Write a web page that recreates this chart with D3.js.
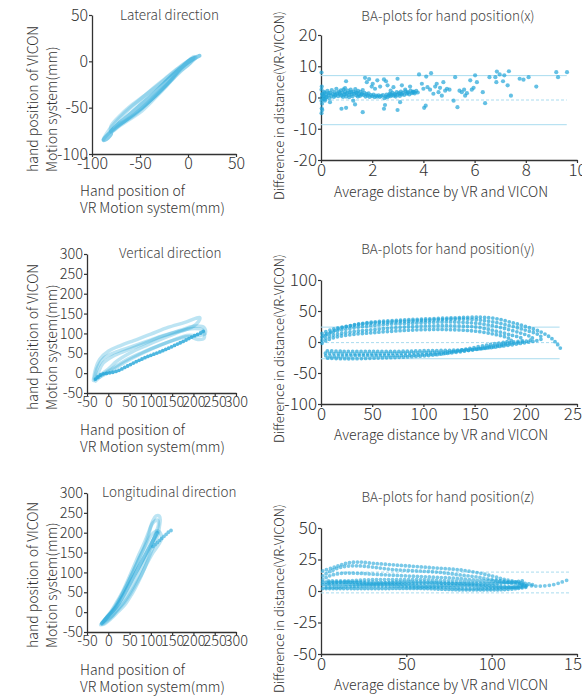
<!DOCTYPE html>
<html><head><meta charset="utf-8">
<script src="https://cdn.jsdelivr.net/npm/d3@7"></script>
<style>body{margin:0;background:#fff} svg{display:block}</style>
</head><body><svg id="c" width="582" height="697"></svg>
<script>
// ---------------- DATA ----------------
// Panel 1: Lateral direction (VR x vs VICON x), trajectory loops
const lateralLoopA = [[-82,-78],[-75,-70],[-65,-61],[-55,-52],[-45,-43],[-35,-34],[-25,-24],[-15,-14],[-5,-5],[3,2],[10,5],[12,6],[8,4],[0,-1],[-8,-8],[-18,-20],[-28,-31],[-38,-41],[-48,-50],[-58,-58],[-68,-66],[-78,-74],[-86,-82],[-88,-85],[-85,-84],[-80,-78]];
const lateralLoopB = [[-88,-84],[-82,-74],[-72,-62],[-60,-50],[-48,-40],[-36,-29],[-24,-19],[-12,-9],[0,0],[8,4],[5,1],[-5,-8],[-15,-18],[-25,-28],[-35,-38],[-45,-48],[-55,-57],[-65,-64],[-75,-70],[-85,-80],[-88,-84]];
const lateralLoopC = [[-80,-70],[-70,-58],[-58,-47],[-45,-37],[-30,-25],[-15,-12],[0,0],[6,5],[2,-2],[-10,-12],[-22,-26],[-35,-40],[-50,-55],[-62,-63],[-72,-70],[-80,-76]];

// Panel 3: Vertical direction
const verticalLoopU1 = [[-35,-18],[-30,10],[-20,35],[0,55],[30,70],[60,82],[100,98],[140,115],[180,128],[205,138],[215,140],[212,130],[200,118],[170,105],[130,88],[90,70],[50,50],[20,30],[0,10],[-20,-5],[-35,-18]];
const verticalLoopU2 = [[-33,-15],[-25,15],[-10,38],[15,52],[50,65],[90,80],[130,95],[170,108],[200,118],[225,115],[228,100],[215,95],[185,95],[150,82],[110,65],[70,45],[35,25],[5,5],[-20,-10],[-33,-15]];
const verticalLoopU3 = [[-30,-20],[-22,5],[-12,25],[10,42],[45,58],[85,75],[125,92],[165,105],[195,112],[222,108],[225,88],[210,85],[190,92],[160,85],[120,70],[80,52],[40,32],[10,12],[-15,-5],[-30,-20]];
const verticalLower = [[-30,-15],[-15,-3],[0,0],[20,5],[40,15],[60,26],[80,36],[100,45],[120,53],[140,62],[160,72],[180,82],[200,93],[220,103],[228,110]];

// Panel 5: Longitudinal direction
const longLoopA = [[-15,-30],[-5,-15],[10,5],[25,30],[40,60],[55,95],[70,130],[85,165],[95,195],[100,215],[105,225],[115,232],[118,222],[112,200],[105,180],[95,150],[80,115],[65,80],[50,50],[35,25],[20,5],[5,-15],[-10,-28],[-15,-30]];
const longLoopB = [[-18,-32],[-8,-18],[5,0],[18,22],[32,48],[45,78],[58,110],[72,145],[86,178],[96,205],[104,228],[112,242],[120,242],[122,232],[120,215],[118,200],[110,175],[98,145],[85,110],[70,75],[55,45],[40,20],[22,0],[5,-18],[-10,-30],[-18,-32]];
const longLoopC = [[-12,-25],[0,-10],[15,10],[30,40],[45,72],[60,105],[75,140],[90,172],[102,195],[115,205],[122,200],[125,185],[118,170],[105,150],[92,125],[78,95],[62,65],[45,35],[28,12],[10,-8],[-12,-25]];
const longCore = [[-15,-28],[0,-10],[20,15],[40,50],[60,90],[80,130],[100,170],[115,200]];
const longTail = [[105,165],[115,175],[125,185],[135,195],[142,202],[148,206]];

// Panel 2: BA plot (x)
const baXPoints = [
 [0.02,8],[0.03,3.5],[0.02,2.5],[0.05,1],[0.03,0],[0.02,-1],[0.04,-2],[0.03,-3.5],[0.02,-5],[0.05,-4],[0.1,0.5],[0.1,-0.5],[0.15,1.5],[0.2,0],[0.15,-1],
 [0.05,1.2],[0.1,0.4],[0.12,1.8],[0.15,-0.6],[0.2,1.0],[0.22,0.2],[0.25,2.1],[0.3,0.8],[0.33,-0.2],[0.36,1.5],[0.4,0.5],[0.42,2.4],[0.46,1.1],[0.5,0.2],[0.53,1.7],[0.57,0.9],[0.6,2.8],[0.63,1.3],[0.67,0.4],[0.7,1.9],[0.74,1.0],[0.78,2.3],[0.8,0.6],[0.84,1.5],[0.88,2.6],[0.9,0.9],[0.94,1.8],[0.98,0.3],[1.02,1.4],[1.05,2.2],[1.09,0.8],[1.12,1.6],[1.16,2.5],[1.2,1.0],[1.23,0.4],[1.27,1.9],[1.3,1.2],[1.34,2.7],[1.38,0.7],[1.41,1.6],[1.45,2.1],[1.48,1.0],[1.52,0.5],[1.55,1.8],[1.6,1.2],[1.63,2.4],[1.67,0.8],[1.7,1.5],[1.74,0.3],[1.78,1.1],[1.82,0.6],[1.86,1.3],[1.9,0.2],[1.95,0.8],[2.0,0.4],[2.05,0.9],[2.1,0.1],[2.15,0.6],[2.2,0.3],[2.25,0.7],[2.3,0.2],[2.35,0.5],[2.42,0.8],[2.48,-0.2],[2.52,0.3],[2.56,0.9],[2.6,0.1],[2.64,0.6],[2.68,1.2],[2.72,0.4],[2.76,0.9],[2.8,1.5],[2.84,0.6],[2.88,1.1],[2.92,0.3],[2.96,1.7],[3.0,0.9],[3.04,1.4],[3.08,0.5],[3.12,1.9],[3.16,1.0],[3.2,1.5],[3.25,0.8],[3.3,2.0],[3.35,1.2],[3.4,1.7],[3.45,1.0],[3.5,2.2],[3.55,1.4],[3.6,1.9],[3.66,1.3],[3.72,2.1],[3.78,1.6],
 [0.3,1.4],[0.55,0.6],[0.72,1.4],[0.96,1.1],[1.18,1.7],[1.36,1.5],[1.58,0.9],[1.44,0.3],[1.1,0.1],[0.86,0.2],[2.7,0.9],[2.9,0.8],[3.1,1.2],[3.38,1.5],[3.58,1.7],
 [0.94,3.0],[0.98,5.2],[0.8,-3.6],[0.98,-3.3],[0.35,-1.5],[1.33,-2.2],[1.26,-1],[1.63,-4.7],[1.72,6.3],[1.79,4.9],[1.88,5.9],[1.98,3.5],[2.02,4.4],[2.11,2.8],[2.2,5.5],[2.31,3.5],[2.46,-3.6],[2.5,-2.4],[2.46,5.8],[2.54,5.2],[2.6,3.9],[2.72,2.2],[2.83,3.3],[2.99,6.0],[2.99,-4.0],[3.16,3.9],[3.09,-1.5],[3.29,2.5],[3.48,3.5],[3.64,1.7],[3.83,7.4],[3.94,4.4],[4.0,2.8],[4.03,-3.3],[4.09,-2.6],[4.11,6.7],[4.16,3.3],[4.3,7.8],[4.26,2.5],[4.39,1.2],[4.46,3.5],[4.52,4.4],[4.59,1.7],[4.65,3.1],[4.72,0.6],[4.78,4.9],[4.85,2.2],[4.92,2.8],[5.02,2.5],[5.18,-1.0],[5.24,6.5],[5.33,-3.1],[5.41,2.2],[5.5,1.7],[5.59,2.5],[5.63,0.6],[5.7,1.4],[5.83,5.5],[5.89,2.5],[5.96,3.1],[6.02,7.1],[6.09,4.9],[6.32,1.7],[6.41,-1.8],[6.58,6.5],[6.81,6.5],[6.85,4.9],[6.87,8.3],[6.98,7.4],[7.11,5.2],[7.16,7.1],[7.29,3.9],[7.34,8.4],[7.42,0.6],[7.76,6.0],[7.91,5.7],[8.11,6.5],[8.41,3.5],[9.19,8.1],[9.26,6.5],[9.61,8.1]
];
const baXLimits = [7.0, -0.8, -8.7];
const baXLimitEnd = 9.6;

// Panel 4: BA plot (y), loops of samples
const baYLoop1 = [[2,10],[15,20],[30,27],[50,32],[75,35],[100,37],[130,39],[155,40],[170,38],[185,32],[200,25],[215,16],[225,6],[231,-4],[236,-15]];
const baYLoop2 = [[1,14],[12,21],[28,26],[45,30],[65,32],[90,34],[115,36],[140,37],[162,34],[180,28],[198,20],[212,12],[216,6],[210,2],[196,-2],[180,-6],[160,-10],[135,-13],[105,-14],[75,-15],[45,-15],[20,-15],[4,-14]];
const baYLoop3 = [[1,8],[10,15],[25,21],[42,25],[60,28],[85,30],[110,32],[135,32],[158,29],[176,23],[194,15],[204,9],[207,5],[200,1],[185,-3],[165,-9],[140,-14],[110,-17],[80,-18],[50,-19],[20,-19],[3,-18]];
const baYLoop4 = [[1,3],[8,9],[20,14],[38,18],[58,21],[80,24],[105,26],[130,26],[152,24],[170,18],[186,11],[196,6],[197,3],[188,0],[172,-5],[150,-12],[125,-18],[95,-21],[65,-22],[35,-22],[12,-23],[2,-22]];
const baYLoop5 = [[1,-2],[6,3],[15,8],[30,12],[50,15],[75,18],[100,20],[125,20],[148,18],[168,13],[182,7],[186,3],[180,0],[165,-4],[140,-12],[115,-20],[85,-24],[55,-26],[25,-27],[5,-26]];
const baYLimits = [24, -1, -27];
const baYLimitEnd = 233;

// Panel 6: BA plot (z)
const baZLoopA = [[1,16],[8,19],[15,22],[22,23],[30,22],[40,21],[50,20],[60,19],[70,18],[80,17],[90,15],[100,12],[108,9],[115,7],[118,5],[112,3],[100,2],[85,2],[70,3],[55,3],[40,4],[25,4],[10,3],[2,3]];
const baZLoopB = [[1,12],[6,16],[12,19],[20,20],[30,19],[42,17],[55,16],[68,15],[80,13],[92,11],[104,8],[112,6],[120,5],[116,3],[104,4],[90,5],[75,6],[60,6],[45,6],[30,7],[15,7],[3,6]];
const baZLoopC = [[1,9],[5,12],[12,14],[22,14],[35,13],[50,12],[65,11],[80,10],[95,8],[108,7],[120,6],[124,5],[118,6],[105,8],[90,8],[75,8],[60,9],[45,9],[30,9],[15,8],[3,8]];
const baZLowerRow1 = [[1,5],[15,5],[30,5],[45,5],[60,4],[75,4],[90,4],[105,3],[115,3],[121,4]];
const baZLowerRow2 = [[1,7],[15,7],[30,6],[45,7],[60,7],[75,6],[90,6],[102,6],[112,7],[118,8]];
const baZLowerRow3 = [[1,2],[20,2],[40,2],[60,2],[80,1],[95,1],[105,1],[115,2],[120,3]];
const baZTail = [[118,5],[124,4],[130,4],[136,5],[141,7],[145,9]];
const baZLimits = [15, -1.5];
const baZLimitEnd = 146;

// Tick values
const lateralTicks = [-100,-50,0,50];
const posTicks = [-50,0,50,100,150,200,250,300];
const baXxTicks = [0,2,4,6,8,10], baXyTicks = [-20,-10,0,10,20];
const baYxTicks = [0,50,100,150,200,250], baYyTicks = [-100,-50,0,50,100];
const baZxTicks = [0,50,100,150], baZyTicks = [-50,-25,0,25,50];

// ---------------- DRAW ----------------
const FONT = "'Noto Sans CJK JP','Noto Sans',sans-serif";
const FW = 300;
const C = "#22a5d8";
const TXT = "#333";
const svg = d3.select("#c");

function axes(xd, xr, yd, yr, xt, yt, fs) {
  const x = d3.scaleLinear().domain(xd).range(xr);
  const y = d3.scaleLinear().domain(yd).range(yr);
  const gx = svg.append("g").attr("transform", `translate(0,${yr[0]})`)
    .call(d3.axisBottom(x).tickValues(xt).tickSize(3).tickSizeOuter(0).tickPadding(1).tickFormat(d => String(d)));
  const gy = svg.append("g").attr("transform", `translate(${xr[0]},0)`)
    .call(d3.axisLeft(y).tickValues(yt).tickSize(3).tickSizeOuter(0).tickPadding(1).tickFormat(d => String(d)));
  [gx, gy].forEach(g => {
    g.select(".domain").attr("stroke", TXT).attr("stroke-width", 1.3);
    g.selectAll(".tick line").attr("stroke", TXT).attr("stroke-width", 1.2);
    g.selectAll("text").attr("fill", TXT).style("font-family", FONT).style("font-weight", FW).style("font-size", fs + "px");
  });
  return {x, y};
}
function text(str, x, y, fs, opts = {}) {
  const t = svg.append("text").attr("x", x).attr("y", y).text(str)
    .attr("fill", opts.fill || TXT).style("font-family", FONT).style("font-weight", FW).style("font-size", fs + "px")
    .attr("text-anchor", opts.anchor || "start");
  if (opts.rotate) t.attr("transform", `rotate(-90,${x},${y})`);
  return t;
}
function loopPath(s, data, w, op, closed) {
  const line = d3.line().x(d => s.x(d[0])).y(d => s.y(d[1])).curve(closed ? d3.curveCatmullRomClosed : d3.curveCatmullRom);
  svg.append("path").datum(data).attr("d", line).attr("fill", "none")
    .attr("stroke", C).attr("stroke-width", w).attr("stroke-opacity", op)
    .attr("stroke-linejoin", "round").attr("stroke-linecap", "round");
}
function dotPath(s, data, op, gap) {
  const line = d3.line().x(d => s.x(d[0])).y(d => s.y(d[1])).curve(d3.curveCatmullRom);
  svg.append("path").datum(data).attr("d", line).attr("fill", "none")
    .attr("stroke", C).attr("stroke-width", 3.8).attr("stroke-opacity", op)
    .attr("stroke-dasharray", `0,${gap}`).attr("stroke-linecap", "round");
}
function limits(s, vals, xEnd, dashed) {
  vals.forEach((v, i) => {
    svg.append("line").attr("x1", s.x(0)).attr("x2", s.x(xEnd)).attr("y1", s.y(v)).attr("y2", s.y(v))
      .attr("stroke", "#a9dcef").attr("stroke-width", 1)
      .attr("stroke-dasharray", dashed[i] ? "3,2" : null);
  });
}
function leftLabels(yStart, xLine1Y) {
  text("hand position of VICON", 38, yStart, 14, {rotate: true});
  text("Motion system(mm)", 57, yStart, 14, {rotate: true});
  text("Hand position of", 80, xLine1Y, 14);
  text("VR Motion system(mm)", 80, xLine1Y + 17, 14);
}
function baLabels(title, titleY, yLabelStart, xLabelY) {
  text(title, 448, titleY, 13.5, {anchor: "middle", fill: "#444"});
  text("Difference in distance(VR-VICON)", 284, yLabelStart, 13, {rotate: true});
  text("Average distance by VR and VICON", 334, xLabelY, 14);
}

// Panel 1
{
  const s = axes([-100,50],[92,236],[-100,50],[154,15], lateralTicks, lateralTicks, 16);
  [lateralLoopB, lateralLoopC].forEach(d => loopPath(s, d, 4, 0.28, true));
  loopPath(s, lateralLoopA, 4, 0.55, true);
  text("Lateral direction", 120, 20, 13.5, {fill: "#444"});
  leftLabels(172, 196);
}
// Panel 2
{
  const s = axes([0,10],[321,577],[-20,20],[160,35], baXxTicks, baXyTicks, 17);
  limits(s, baXLimits, baXLimitEnd, [false, true, false]);
  svg.append("g").selectAll("circle").data(baXPoints).join("circle")
    .attr("cx", d => s.x(d[0])).attr("cy", d => s.y(d[1])).attr("r", 2.1)
    .attr("fill", C).attr("fill-opacity", 0.7);
  baLabels("BA-plots for hand position(x)", 21, 200, 197);
}
// Panel 3
{
  const s = axes([-50,300],[87,236],[-50,300],[393,254], posTicks, posTicks, 14.5);
  [verticalLoopU1, verticalLoopU2, verticalLoopU3].forEach(d => loopPath(s, d, 3.5, 0.3, true));
  dotPath(s, verticalLower, 0.8, 3.2);
  text("Vertical direction", 119, 258, 13.5, {fill: "#444"});
  leftLabels(410, 435);
}
// Panel 4
{
  const s = axes([0,250],[321,577],[-100,100],[404,280], baYxTicks, baYyTicks, 17);
  limits(s, baYLimits, baYLimitEnd, [false, true, false]);
  [baYLoop1, baYLoop2, baYLoop3, baYLoop4, baYLoop5].forEach(d => dotPath(s, d, 0.7, 4.2));
  baLabels("BA-plots for hand position(y)", 254, 443, 440);
}
// Panel 5
{
  const s = axes([-50,300],[87,236],[-50,300],[632,493], posTicks, posTicks, 14.5);
  [longLoopA, longLoopB, longLoopC].forEach(d => loopPath(s, d, 3.5, 0.3, true));
  loopPath(s, longCore, 4, 0.6, false);
  dotPath(s, longTail, 0.6, 3);
  text("Longitudinal direction", 102, 497, 13.5, {fill: "#444"});
  leftLabels(648, 675);
}
// Panel 6
{
  const s = axes([0,150],[321,577],[-50,50],[654,528], baZxTicks, baZyTicks, 17);
  limits(s, baZLimits, baZLimitEnd, [true, true]);
  [baZLoopA, baZLoopB, baZLoopC].forEach(d => dotPath(s, d, 0.6, 4));
  [baZLowerRow1, baZLowerRow2, baZLowerRow3].forEach(d => dotPath(s, d, 0.7, 3.5));
  dotPath(s, baZTail, 0.6, 4.5);
  baLabels("BA-plots for hand position(z)", 502, 693, 690);
}
</script></body></html>
